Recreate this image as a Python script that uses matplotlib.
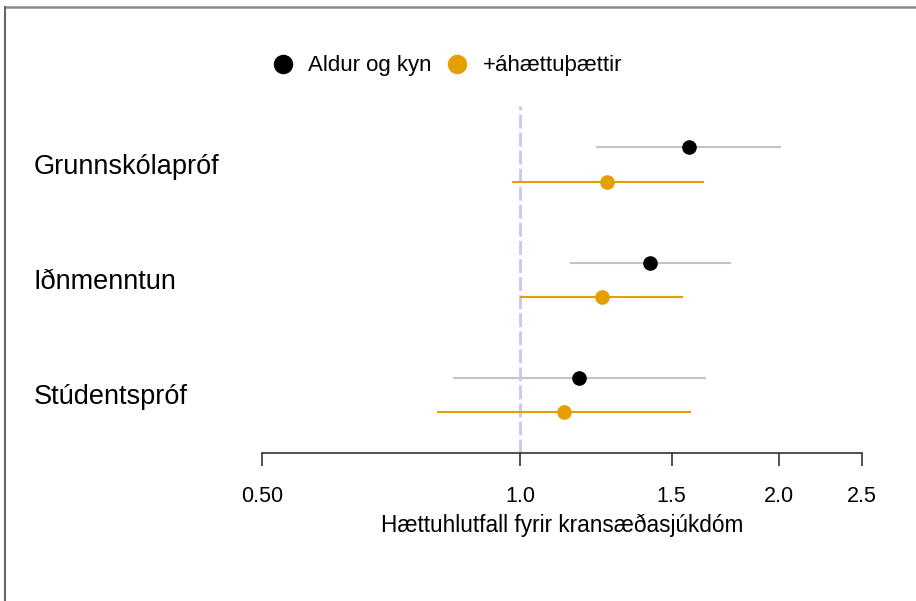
import numpy as np
import matplotlib.pyplot as plt
from matplotlib.lines import Line2D
from matplotlib.transforms import blended_transform_factory

plt.rcParams["font.family"] = ["Liberation Sans", "DejaVu Sans"]

categories = ["Grunnskólapróf", "Iðnmenntun", "Stúdentspróf"]

# hazard ratios with 95% CI, model 1 (age and sex)
hr_base = [1.57, 1.415, 1.17]
lo_base = [1.225, 1.142, 0.835]
hi_base = [2.01, 1.76, 1.645]

# model 2 (+ risk factors)
hr_adj = [1.262, 1.243, 1.124]
lo_adj = [0.978, 1.0, 0.80]
hi_adj = [1.636, 1.548, 1.58]

xticks = [0.5, 1.0, 1.5, 2.0, 2.5]
xticklabels = ["0.50", "1.0", "1.5", "2.0", "2.5"]

orange = "#E69F00"

fig = plt.figure(figsize=(9.16, 6.01), dpi=100)
ax = fig.add_axes([262 / 916, 1 - 453 / 601, 600 / 916, (453 - 106) / 601])

ypos = np.arange(len(categories))
off = 0.15

ax.axvline(1.0, color="#c6c6fb", lw=2, ls=(0, (5, 1.5)), zorder=1)

ax.hlines(ypos - off, lo_base, hi_base, color="#c4c4c4", lw=1.5, zorder=2)
ax.plot(hr_base, ypos - off, "o", color="black", ms=9.5, zorder=3)
ax.hlines(ypos + off, lo_adj, hi_adj, color=orange, lw=1.5, zorder=2)
ax.plot(hr_adj, ypos + off, "o", color=orange, ms=9.5, zorder=3)

ax.set_xscale("log")
ax.set_xlim(0.5, 2.5)
ax.set_ylim(2.505, -0.51)
ax.set_xticks(xticks)
ax.set_xticklabels(xticklabels, fontsize=15.5)
ax.minorticks_off()
ax.tick_params(axis="x", length=9.5, width=1.2, color="#333333", pad=14)
ax.set_yticks([])
for s in ["top", "right", "left"]:
    ax.spines[s].set_visible(False)
ax.spines["bottom"].set_linewidth(1.2)
ax.spines["bottom"].set_color("#333333")
ax.set_xlabel("Hættuhlutfall fyrir kransæðasjúkdóm", fontsize=16.3, labelpad=5)

label_tr = blended_transform_factory(fig.transFigure, ax.transData)
for y, name in zip(ypos, categories):
    ax.text(34 / 916, y + 0.02, name, transform=label_tr,
            fontsize=19.5, va="center", ha="left")

handles = [
    Line2D([], [], marker="o", ls="", color="black", ms=13),
    Line2D([], [], marker="o", ls="", color=orange, ms=13),
]
fig.legend(handles, ["Aldur og kyn", "+áhættuþættir"], loc="center",
           bbox_to_anchor=(446 / 916, 1 - 66 / 601), ncol=2, frameon=False,
           fontsize=16, handletextpad=0.55, columnspacing=0.55, handlelength=1.2)

# grey frame along the top and left edge
fig.add_artist(Line2D([5 / 916, 1], [1 - 7 / 601, 1 - 7 / 601], transform=fig.transFigure,
                      color="#8a8a8a", lw=1.8))
fig.add_artist(Line2D([5 / 916, 5 / 916], [0, 1 - 7 / 601], transform=fig.transFigure,
                      color="#666666", lw=1.5))

fig.savefig("out.png", dpi=100)
